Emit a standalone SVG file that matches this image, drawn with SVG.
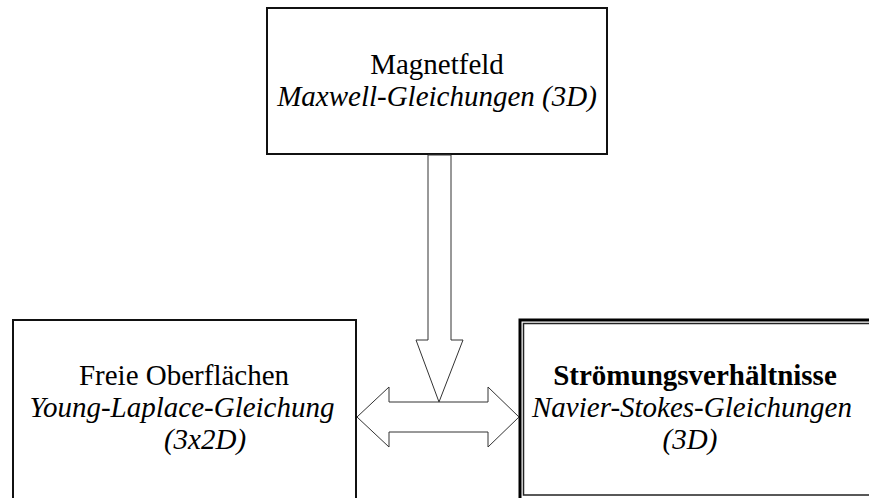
<svg xmlns="http://www.w3.org/2000/svg" width="869" height="498" viewBox="0 0 869 498">
<style>
.box{fill:#fff;stroke:#111;stroke-width:2}
.arrow{fill:#fff;stroke:#333;stroke-width:1}
text{font-family:"Liberation Serif","Times New Roman",serif;font-size:29px;fill:#000;text-anchor:middle}
.it{font-style:italic}
.b{font-weight:bold}
</style>
<rect width="869" height="498" fill="#fff"/>
<g id="magnetfeld">
<rect class="box" x="267" y="8" width="340" height="146"/>
<text x="437" y="74">Magnetfeld</text>
<text class="it" x="437" y="106">Maxwell-Gleichungen (3D)</text>
</g>
<g id="oberflaechen">
<rect class="box" x="13" y="320" width="343" height="200"/>
<text x="184" y="385">Freie Oberflächen</text>
<text class="it" x="182" y="417">Young-Laplace-Gleichung</text>
<text class="it" x="205" y="449">(3x2D)</text>
</g>
<g id="stroemung">
<rect x="520" y="320" width="360" height="190" fill="#fff" stroke="#000" stroke-width="3"/>
<rect x="523.5" y="323.5" width="360" height="171.5" fill="none" stroke="#222" stroke-width="1.5"/>
<text class="b" x="695" y="385">Strömungsverhältnisse</text>
<text class="it" x="692" y="417">Navier-Stokes-Gleichungen</text>
<text class="it" x="690" y="449">(3D)</text>
</g>
<g id="connectors">
<polygon class="arrow" points="428,155 428,340 416,340 439,402 463,340 451,340 451,155"/>
<polygon class="arrow" points="357,417 389,387 389,402 488,402 488,387 519,417 488,447 488,432 389,432 389,447"/>
</g>
</svg>
